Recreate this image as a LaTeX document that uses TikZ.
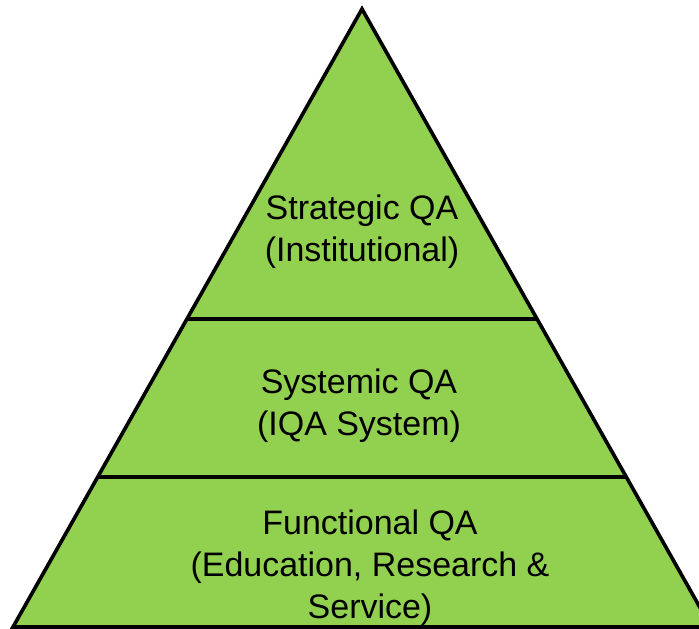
\documentclass[tikz,border=0pt]{standalone}
\usepackage{fontspec}
\setmainfont{Liberation Sans}
\usetikzlibrary{calc}
\definecolor{qagreen}{HTML}{92D050}

\begin{document}
\begin{tikzpicture}
	[x=0.03cm,y=-0.03cm,
		tier/.style={fill=qagreen,draw=black,line width=3.1pt,line join=miter},
		cut/.style={draw=black,line width=3.1pt},
		tiertext/.style={align=center,text=black,inner sep=0pt,
		font=\fontsize{29}{35.7}\selectfont}]
	\useasboundingbox (0,0) rectangle (699,629);
	\clip (0,0) rectangle (699,629);

	\coordinate (apex) at (362,9);
	\coordinate (baseleft) at (13,627);
	\coordinate (baseright) at (711,627);
	\draw[tier] (apex) -- (baseleft) -- (baseright) -- cycle;

	% tier borders
	\coordinate (upl) at ($(apex)!0.5016!(baseleft)$);
	\coordinate (upr) at ($(apex)!0.5016!(baseright)$);
	\coordinate (lowl) at ($(apex)!0.7573!(baseleft)$);
	\coordinate (lowr) at ($(apex)!0.7573!(baseright)$);
	\draw[cut] (upl) -- (upr);
	\draw[cut] (lowl) -- (lowr);

	\node (strategic) at (362,232) [tiertext] {Strategic QA\\(Institutional)};
	\node (systemic) at (359,406) [tiertext] {Systemic QA\\(IQA System)};
	\node (functional) at (370,568) [tiertext]
		{Functional QA\\(Education, Research \&\\Service)};
\end{tikzpicture}
\end{document}
